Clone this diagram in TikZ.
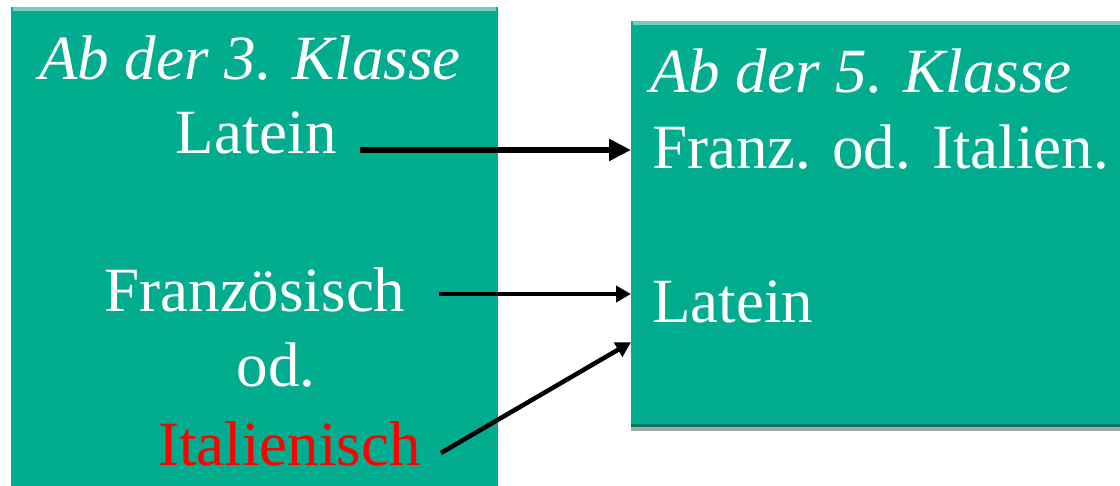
\documentclass[tikz,border=0pt]{standalone}
\usepackage{fontspec}
\setmainfont{Liberation Serif}
\usepackage{xcolor}
\usetikzlibrary{arrows.meta,shadows}
\definecolor{boxteal}{RGB}{2,172,142}
\definecolor{langred}{RGB}{255,0,0}

\begin{document}
\begin{tikzpicture}[x=1pt,y=-1pt,
    panel/.style={draw=none,fill=boxteal,anchor=north west,inner sep=0pt,
      drop shadow={shadow xshift=0pt,shadow yshift=-4pt,opacity=.35,fill=black}},
    txt/.style={text=white,font=\fontsize{63}{70}\selectfont,inner sep=0pt,anchor=base},
    hd/.style={txt,font=\fontsize{63}{70}\selectfont\itshape},
    bigarrow/.style={-{Triangle[length=22pt,width=21pt]},line width=6pt},
    arrow/.style={-{Triangle[length=15pt,width=16pt]},line width=4.5pt}]
  \useasboundingbox (0,0) rectangle (1120,486);

  % Boxes for the two school stages
  \node[panel,minimum width=487pt,minimum height=500pt] (lbox) at (11,7) {};
  \node[panel,minimum width=520pt,minimum height=406pt] (rbox) at (631,21) {};
  \draw[line width=4pt,boxteal!55!white] ([shift={(2,2)}]lbox.north west) -- ([shift={(-2,2)}]lbox.north east);
  \draw[line width=4pt,boxteal!55!white] ([shift={(2,2)}]rbox.north west) -- ([shift={(0,2)}]rbox.north east);
  \draw[line width=3pt,boxteal!70!black] ([shift={(0,-2)}]rbox.south west) -- ([shift={(0,-2)}]rbox.south east);

  % Left box
  \node[hd] (headA) at (250,80) {Ab der 3. Klasse};
  \node[txt] (latA) at (256,154) {Latein};
  \node[txt] (franzA) at (255,312) {Französisch};
  \node[txt] (odA) at (276,387) {od.};
  \node[txt,text=langred] (itaA) at (289.5,465) {Italienisch};

  % Right box
  \node[hd,anchor=base west] (headB) at (650,93) {Ab der 5. Klasse};
  \node[txt,anchor=base west] (franzB) at (652,169) {Franz. od. Italien.};
  \node[txt,anchor=base west] (latB) at (652,323) {Latein};

  % Arrows
  \draw[bigarrow] ([shift={(23,-4)}]latA.base east) coordinate (s1) -- (s1 -| rbox.west);
  \draw[arrow] ([shift={(33,-18)}]franzA.base east) coordinate (s2) -- (s2 -| rbox.west);
  \draw[arrow] ([shift={(20,-12)}]itaA.base east) -- ([shift={(0,118)}]rbox.west);
\end{tikzpicture}
\end{document}
